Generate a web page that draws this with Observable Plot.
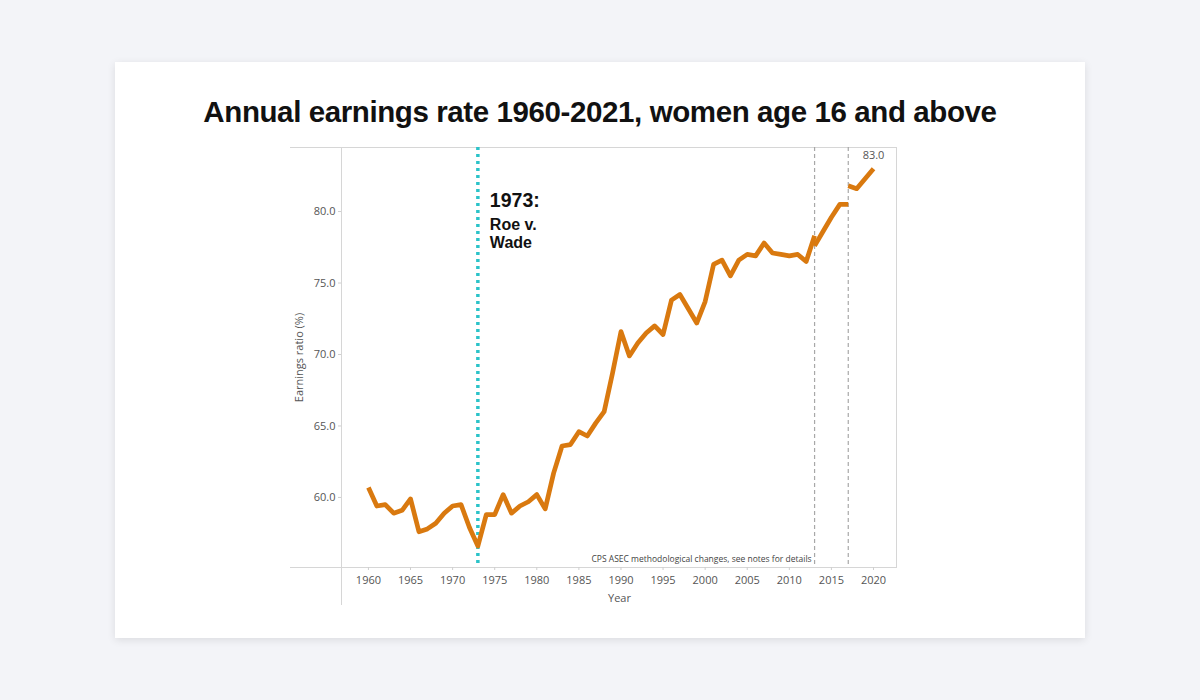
<!DOCTYPE html>
<html>
<head>
<meta charset="utf-8">
<script src="https://cdn.jsdelivr.net/npm/d3@7"></script>
<script src="https://cdn.jsdelivr.net/npm/@observablehq/plot@0.6"></script>
<style>
  html, body { margin: 0; padding: 0; }
  body { width: 1200px; height: 700px; background: #f3f4f8; position: relative; overflow: hidden; }
  #card { position: absolute; left: 115px; top: 62px; width: 970px; height: 576px; background: #fff;
          box-shadow: 0 2px 8px rgba(0,0,0,0.10); }
  #title { position: absolute; left: 0; width: 1200px; top: 92px; text-align: center;
           font-family: "Liberation Sans", Arial, sans-serif; font-weight: 700; font-size: 29.5px;
           letter-spacing: -0.4px; color: #111; margin: 0; line-height: 40px; }
  #chart { position: absolute; left: 285px; top: 140px; }
</style>
</head>
<body>
<div id="card"></div>
<h1 id="title">Annual earnings rate 1960-2021, women age 16 and above</h1>
<div id="chart"></div>
<script>
// Segment 1: 1960-2013 (original series)
const years1 = d3.range(1960, 2014);
const values1 = [60.7, 59.4, 59.5, 58.9, 59.1, 59.9, 57.6, 57.8, 58.2, 58.9,
                 59.4, 59.5, 57.9, 56.6, 58.8, 58.8, 60.2, 58.9, 59.4, 59.7,
                 60.2, 59.2, 61.7, 63.6, 63.7, 64.6, 64.3, 65.2, 66.0, 68.7,
                 71.6, 69.9, 70.8, 71.5, 72.0, 71.4, 73.8, 74.2, 73.2, 72.2,
                 73.7, 76.3, 76.6, 75.5, 76.6, 77.0, 76.9, 77.8, 77.1, 77.0,
                 76.9, 77.0, 76.5, 78.3];
// Segment 2: 2013-2017 (redesigned questionnaire)
const years2 = [2013, 2014, 2015, 2016, 2017];
const values2 = [77.6, 78.6, 79.6, 80.5, 80.5];
// Segment 3: 2017-2020 (updated processing system)
const years3 = [2017, 2018, 2019, 2020];
const values3 = [81.8, 81.6, 82.3, 83.0];

const xTicks = [1960, 1965, 1970, 1975, 1980, 1985, 1990, 1995, 2000, 2005, 2010, 2015, 2020];
const yTicks = [60, 65, 70, 75, 80];
const breakYears = [2013, 2017];
const eventYear = [1973];
const noteText = "CPS ASEC methodological changes, see notes for details";

const data = [
  ...years1.map((y, i) => ({year: y, value: values1[i], seg: "a"})),
  ...years2.map((y, i) => ({year: y, value: values2[i], seg: "b"})),
  ...years3.map((y, i) => ({year: y, value: values3[i], seg: "c"}))
];
const last = data[data.length - 1];

const W = 620, H = 475, mL = 56, mR = 8, mT = 7, mB = 48;
const orange = "#d9790f";
const teal = "#2bc3c9";

const plot = Plot.plot({
  width: W, height: H,
  marginLeft: mL, marginRight: mR, marginTop: mT, marginBottom: mB,
  x: {domain: [1956.8, 2022.85]},
  y: {domain: [55.1, 84.48]},
  style: {fontFamily: "'Open Sans', sans-serif", fontSize: "11px", color: "#555", background: "transparent", overflow: "visible"},
  marks: [
    Plot.axisY({ticks: yTicks, tickFormat: d3.format(".1f"), tickSize: 3, tickPadding: 3,
                stroke: "#cfcfcf", label: "Earnings ratio (%)", labelAnchor: "center",
                labelOffset: 46, labelArrow: "none", fontSize: 11}),
    Plot.axisX({ticks: xTicks, tickFormat: d => String(d), tickSize: 3, tickPadding: 6,
                stroke: "#cfcfcf", label: "Year", labelAnchor: "center",
                labelOffset: 34, labelArrow: "none", fontSize: 11}),
    Plot.ruleX(breakYears, {stroke: "#a8a8a8", strokeWidth: 1.2, strokeDasharray: "4,3"}),
    Plot.text([noteText], {x: breakYears[0], frameAnchor: "bottom", dx: -3, dy: -6,
                textAnchor: "end", fontSize: 8.5, fill: "#444"}),
    Plot.ruleX(eventYear, {stroke: teal, strokeWidth: 3.5, strokeDasharray: "3,4"}),
    Plot.line(data, {x: "year", y: "value", z: "seg", stroke: orange, strokeWidth: 4.7,
                     strokeLinejoin: "round", strokeLinecap: "butt"}),
    Plot.text([last], {x: "year", y: "value", text: d => d.value.toFixed(1), dy: -13,
                       fontSize: 11, fill: "#555"}),
    Plot.text(eventYear, {x: d => d, y: 80.75, text: d => d + ":", dx: 12, textAnchor: "start",
                          fontSize: 19.5, fontWeight: 700, fill: "#111",
                          fontFamily: "'Liberation Sans', Arial, sans-serif"}),
    Plot.text(["Roe v.\nWade"], {x: eventYear[0], y: 79.65, dx: 12, textAnchor: "start", lineAnchor: "top",
                          fontSize: 16, fontWeight: 700, fill: "#111", lineHeight: 1.15,
                          fontFamily: "'Liberation Sans', Arial, sans-serif"})
  ]
});

document.getElementById("chart").appendChild(plot);

// Frame lines, positioned through the plot's own scales
const xs = plot.scale("x"), ys = plot.scale("y");
const svg = d3.select(plot);
const xL = xs.apply(xs.domain[0]), xR = xs.apply(xs.domain[1]);
const yT = ys.apply(ys.domain[1]), yB = ys.apply(ys.domain[0]);
const g = svg.insert("g", ":first-child").attr("stroke", "#d6d6d6").attr("stroke-width", 1);
g.append("line").attr("x1", 5).attr("x2", xR).attr("y1", yT + 0.5).attr("y2", yT + 0.5);
g.append("line").attr("x1", 5).attr("x2", xR).attr("y1", yB + 0.5).attr("y2", yB + 0.5);
g.append("line").attr("x1", xL + 0.5).attr("x2", xL + 0.5).attr("y1", yT).attr("y2", H - 10);
g.append("line").attr("x1", xR - 0.5).attr("x2", xR - 0.5).attr("y1", yT).attr("y2", yB);
</script>
</body>
</html>
